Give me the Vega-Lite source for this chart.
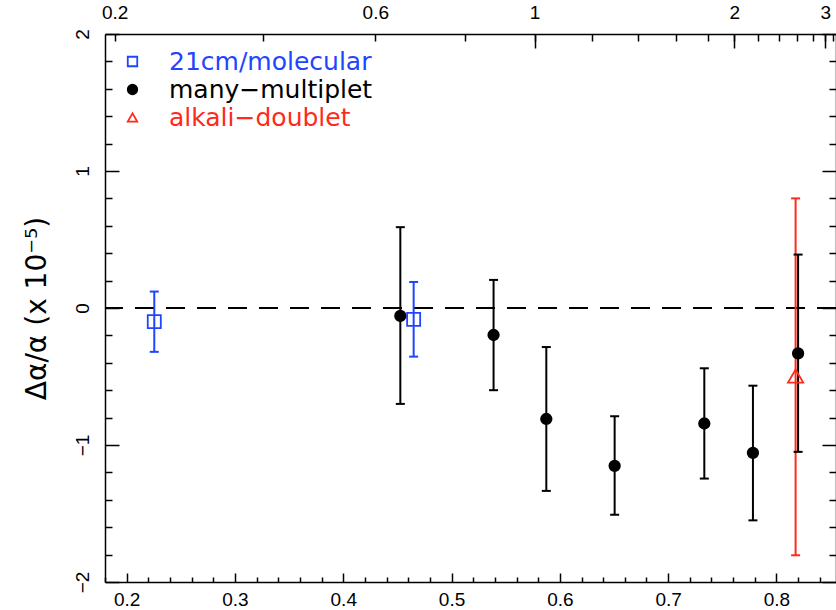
{
  "$schema": "https://vega.github.io/schema/vega-lite/v6.json",
  "width": 731,
  "height": 548,
  "autosize": {"type": "none"},
  "padding": {"left": 105, "top": 34, "right": 0, "bottom": 28},
  "background": "white",
  "config": {
    "view": {"stroke": null},
    "axis": {"grid": false, "labelFont": "Liberation Sans", "labelFontSize": 19, "labelColor": "black", "tickColor": "black", "domainColor": "black", "domainWidth": 1.5, "tickWidth": 1.5, "labelFlush": false, "labelOverlap": false}
  },
  "data": {"values": [
    {"g": "21cm/molecular", "x": 0.2255, "y": -0.10, "lo": -0.32, "hi": 0.12},
    {"g": "21cm/molecular", "x": 0.4650, "y": -0.083, "lo": -0.355, "hi": 0.19},
    {"g": "many−multiplet", "x": 0.4527, "y": -0.058, "lo": -0.70, "hi": 0.59},
    {"g": "many−multiplet", "x": 0.5388, "y": -0.197, "lo": -0.60, "hi": 0.205},
    {"g": "many−multiplet", "x": 0.5875, "y": -0.81, "lo": -1.335, "hi": -0.285},
    {"g": "many−multiplet", "x": 0.6506, "y": -1.152, "lo": -1.51, "hi": -0.79},
    {"g": "many−multiplet", "x": 0.7334, "y": -0.843, "lo": -1.245, "hi": -0.44},
    {"g": "many−multiplet", "x": 0.7783, "y": -1.057, "lo": -1.55, "hi": -0.567},
    {"g": "many−multiplet", "x": 0.8200, "y": -0.331, "lo": -1.05, "hi": 0.39},
    {"g": "alkali−doublet", "x": 0.8177, "y": -0.497, "lo": -1.805, "hi": 0.80}
  ]},
  "resolve": {"axis": {"x": "independent", "y": "independent"}},
  "layer": [
    {
      "data": {"values": [{}]},
      "mark": {"type": "rule", "strokeDash": [19, 12], "strokeWidth": 2, "color": "black"},
      "encoding": {"y": {"datum": 0, "type": "quantitative", "scale": {"domain": [-2, 2], "nice": false, "zero": false}, "axis": null}}
    },
    {
      "mark": {"type": "rule", "strokeWidth": 2},
      "encoding": {
        "x": {"field": "x", "type": "quantitative", "scale": {"domain": [0.18, 0.855], "nice": false, "zero": false},
          "axis": {"orient": "bottom", "values": [0.2, 0.3, 0.4, 0.5, 0.6, 0.7, 0.8], "format": ".1f", "tickSize": -9, "labelPadding": 17, "title": null}},
        "y": {"field": "lo", "type": "quantitative", "scale": {"domain": [-2, 2], "nice": false, "zero": false},
          "axis": {"orient": "left", "values": [-2, -1, 0, 1, 2], "format": "d", "tickSize": -14, "labelAngle": -90, "labelPadding": 27, "title": "Δα/α (x 10⁻⁵)", "titleFont": "DejaVu Sans", "titleFontSize": 28, "titleFontWeight": "normal", "titleColor": "black", "titlePadding": 22}},
        "y2": {"field": "hi"},
        "color": {"field": "g", "type": "nominal", "scale": {"domain": ["many−multiplet", "21cm/molecular", "alkali−doublet"], "range": ["#000000", "#1f45ff", "#ff2a1a"]}, "legend": null}
      }
    },
    {
      "mark": {"type": "tick", "orient": "horizontal", "size": 9, "thickness": 2, "opacity": 1},
      "encoding": {
        "x": {"field": "x", "type": "quantitative", "scale": {"domain": [0.18, 0.855], "nice": false, "zero": false},
          "axis": {"orient": "bottom", "values": [0.18, 0.22, 0.24, 0.26, 0.28, 0.32, 0.34, 0.36, 0.38, 0.42, 0.44, 0.46, 0.48, 0.52, 0.54, 0.56, 0.58, 0.62, 0.64, 0.66, 0.68, 0.72, 0.74, 0.76, 0.78, 0.82, 0.84], "tickSize": -5, "labels": false, "domain": false, "title": null}},
        "y": {"field": "lo", "type": "quantitative", "scale": {"domain": [-2, 2], "nice": false, "zero": false},
          "axis": {"orient": "left", "values": [-1.8, -1.6, -1.4, -1.2, -0.8, -0.6, -0.4, -0.2, 0.2, 0.4, 0.6, 0.8, 1.2, 1.4, 1.6, 1.8], "tickSize": -7, "labels": false, "domain": false, "title": null}},
        "color": {"field": "g", "type": "nominal", "legend": null}
      }
    },
    {
      "mark": {"type": "tick", "orient": "horizontal", "size": 9, "thickness": 2, "opacity": 1},
      "encoding": {
        "x": {"field": "x", "type": "quantitative", "scale": {"domain": [0.18, 0.855], "nice": false, "zero": false},
          "axis": {"orient": "top", "values": [0.1889, 0.3255, 0.4296, 0.512, 0.5767, 0.6297, 0.6718, 0.7075, 0.7368, 0.7611, 0.7826, 0.802, 0.819, 0.8334, 0.8451, 0.8525], "labelExpr": "datum.value == 0.1889 ? '0.2' : datum.value == 0.4296 ? '0.6' : datum.value == 0.5767 ? '1' : datum.value == 0.7611 ? '2' : datum.value == 0.8451 ? '3' : ''", "tickSize": -7, "labelPadding": 19, "title": null}},
        "y": {"field": "hi", "type": "quantitative", "scale": {"domain": [-2, 2], "nice": false, "zero": false},
          "axis": {"orient": "right", "values": [-2, -1, 0, 1, 2], "tickSize": -14, "labels": false, "title": null}},
        "color": {"field": "g", "type": "nominal", "legend": null}
      }
    },
    {
      "mark": {"type": "point", "strokeWidth": 1.8, "opacity": 1},
      "encoding": {
        "x": {"field": "x", "type": "quantitative", "scale": {"domain": [0.18, 0.855], "nice": false, "zero": false},
          "axis": {"orient": "top", "values": [0.5767, 0.7611, 0.8451], "tickSize": -14, "labels": false, "domain": false, "title": null}},
        "y": {"field": "y", "type": "quantitative", "scale": {"domain": [-2, 2], "nice": false, "zero": false},
          "axis": {"orient": "right", "values": [-1.8, -1.6, -1.4, -1.2, -0.8, -0.6, -0.4, -0.2, 0.2, 0.4, 0.6, 0.8, 1.2, 1.4, 1.6, 1.8], "tickSize": -7, "labels": false, "domain": false, "title": null}},
        "stroke": {"field": "g", "type": "nominal", "scale": {"domain": ["21cm/molecular", "many−multiplet", "alkali−doublet"], "range": ["#1f45ff", "#000000", "#ff2a1a"]},
          "legend": {"title": null, "orient": "top-left", "offset": 15, "padding": 0, "labelFont": "DejaVu Sans", "labelFontSize": 25, "labelLimit": 400, "labelColor": {"expr": "datum.value == '21cm/molecular' ? '#1f45ff' : datum.value == 'alkali−doublet' ? '#ff2a1a' : '#000000'"}, "symbolSize": 90, "symbolStrokeWidth": 1.8, "labelOffset": 24, "rowPadding": 2}},
        "fill": {"field": "g", "type": "nominal", "scale": {"domain": ["21cm/molecular", "many−multiplet", "alkali−doublet"], "range": ["transparent", "#000000", "transparent"]}},
        "shape": {"field": "g", "type": "nominal", "scale": {"domain": ["21cm/molecular", "many−multiplet", "alkali−doublet"], "range": ["square", "circle", "triangle-up"]}},
        "size": {"field": "g", "type": "nominal", "scale": {"domain": ["alkali−doublet", "21cm/molecular", "many−multiplet"], "range": [230, 110, 90]}, "legend": null}
      }
    }
  ]
}
